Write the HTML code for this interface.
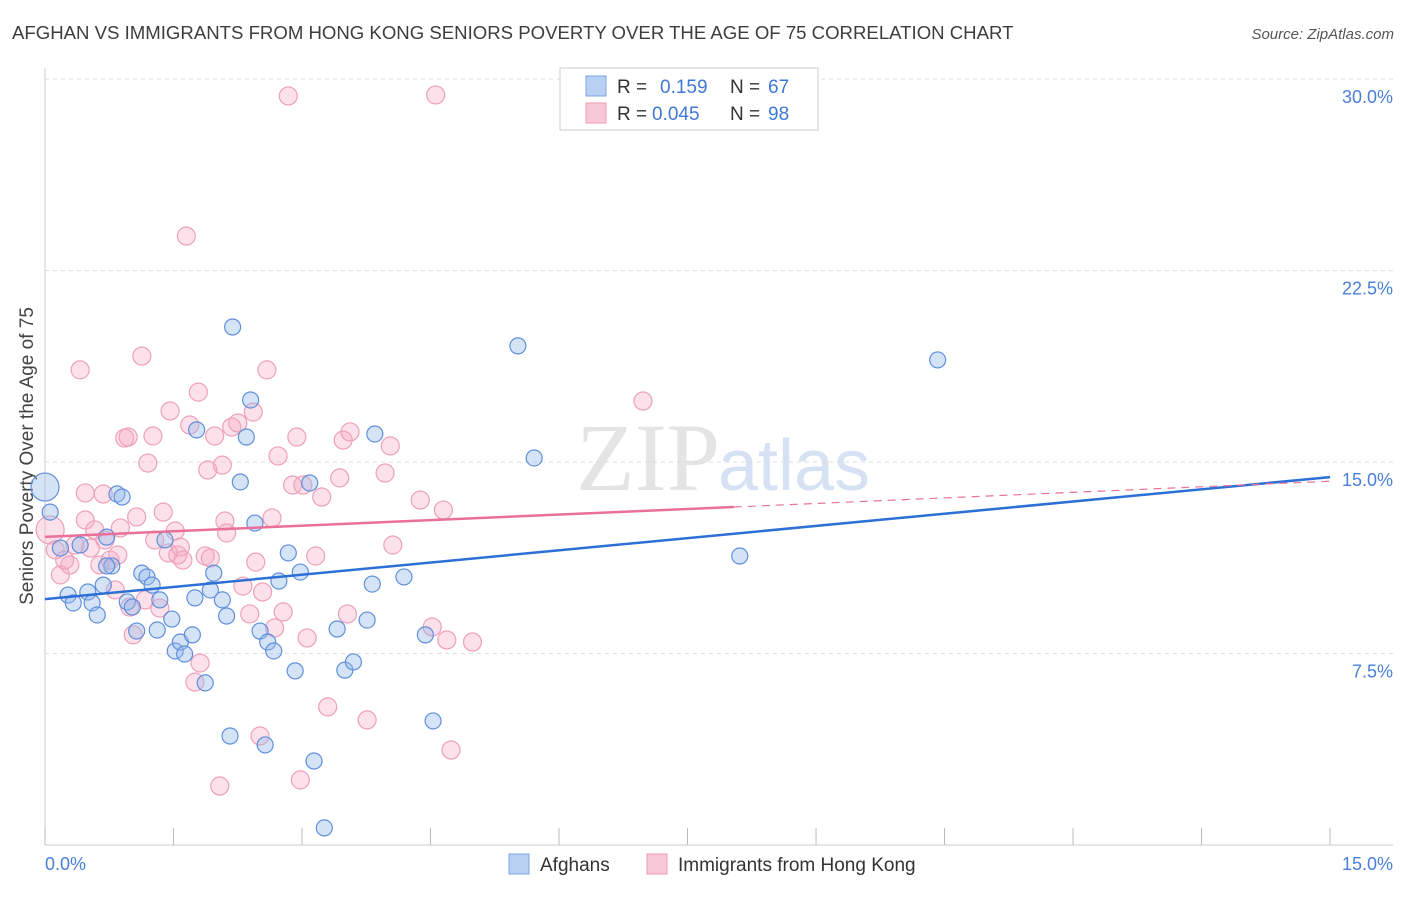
<!DOCTYPE html>
<html><head><meta charset="utf-8"><style>
body{margin:0;background:#fff;font-family:"Liberation Sans",sans-serif;}
</style></head><body>
<svg id="c" width="1406" height="892" xmlns="http://www.w3.org/2000/svg">
<text x="12" y="39" font-size="18.6" fill="#3d3d3d">AFGHAN VS IMMIGRANTS FROM HONG KONG SENIORS POVERTY OVER THE AGE OF 75 CORRELATION CHART</text>
<text x="1394" y="39" font-size="15" fill="#555" font-style="italic" text-anchor="end">Source: ZipAtlas.com</text>
<text x="33" y="456" font-size="19" fill="#444" text-anchor="middle" transform="rotate(-90 33 456)">Seniors Poverty Over the Age of 75</text>
<text x="720" y="490" font-size="96" fill="#e4e4e4" text-anchor="end" font-family="Liberation Serif">ZIP</text>
<text x="718" y="490" font-size="72" fill="#d6e2f4">atlas</text>
<g id="grid"></g><g id="marks"></g>
<g>
<rect x="560" y="68" width="258" height="62" fill="#fff" stroke="#ccc"/>
<rect x="586" y="76" width="20" height="20" fill="#b8d0f2" stroke="#7ba3e0"/>
<rect x="586" y="103" width="20" height="20" fill="#f9c8d8" stroke="#ee9ab6"/>
<text x="617" y="93" font-size="19" fill="#333">R =</text>
<text x="660" y="93" font-size="19" fill="#3f78d6">0.159</text>
<text x="730" y="93" font-size="19" fill="#333">N =</text>
<text x="768" y="93" font-size="19" fill="#3f78d6">67</text>
<text x="617" y="120" font-size="19" fill="#333">R =</text>
<text x="652" y="120" font-size="19" fill="#3f78d6">0.045</text>
<text x="730" y="120" font-size="19" fill="#333">N =</text>
<text x="768" y="120" font-size="19" fill="#3f78d6">98</text>
</g>
<g>
<rect x="509" y="854" width="20" height="20" fill="#b8d0f2" stroke="#7ba3e0"/>
<text x="540" y="871" font-size="19" fill="#333">Afghans</text>
<rect x="647" y="854" width="20" height="20" fill="#f9c8d8" stroke="#ee9ab6"/>
<text x="678" y="871" font-size="19" fill="#333">Immigrants from Hong Kong</text>
</g>
</svg>
<script>
const blueX=[0,0.06,0.18,0.27,0.33,0.41,0.50,0.55,0.61,0.68,0.72,0.78,0.72,0.84,0.90,0.96,1.02,1.07,1.13,1.19,1.25,1.31,1.34,1.40,1.48,1.52,1.58,1.63,1.72,1.75,1.77,1.87,1.93,1.97,2.07,2.12,2.16,2.19,2.28,2.35,2.40,2.45,2.51,2.57,2.60,2.67,2.73,2.84,2.92,2.98,3.09,3.14,3.26,3.41,3.50,3.60,3.76,3.82,3.85,4.19,4.44,4.53,5.52,5.71,8.11,10.42];
const blueY=[14.02,13.04,11.63,9.79,9.48,11.75,9.91,9.48,9.01,10.18,12.06,10.93,10.93,13.75,13.63,9.52,9.32,8.38,10.65,10.50,10.18,8.42,9.60,11.95,8.85,7.60,7.95,7.48,8.23,9.68,16.26,6.35,9.99,10.65,9.60,8.97,4.27,20.29,14.22,15.98,17.43,12.61,8.38,3.92,7.95,7.60,10.34,11.44,6.82,10.69,14.18,3.29,0.67,8.46,6.85,7.17,8.81,10.22,16.10,10.50,8.23,4.86,19.55,15.16,11.32,19.00];
const pinkX=[0.06,0.12,0.18,0.23,0.29,0.35,0.41,0.47,0.47,0.53,0.58,0.64,0.68,0.70,0.76,0.82,0.85,0.88,0.93,0.97,0.99,1.03,1.07,1.13,1.17,1.20,1.26,1.28,1.34,1.38,1.44,1.46,1.52,1.55,1.58,1.61,1.65,1.69,1.75,1.79,1.81,1.87,1.90,1.93,1.98,2.07,2.10,2.12,2.18,2.25,2.31,2.39,2.43,2.46,2.51,2.54,2.59,2.65,2.68,2.72,2.78,2.84,2.89,2.94,2.98,3.01,3.06,3.16,3.23,3.30,3.44,3.48,3.53,3.56,3.76,3.97,4.03,4.06,4.38,4.52,4.56,4.65,4.69,4.74,4.99,6.98,2.04];
const pinkY=[12.34,11.56,10.58,11.16,10.97,11.75,18.61,13.79,12.73,11.63,12.34,10.97,13.75,11.95,11.16,9.99,11.36,12.42,15.94,15.98,9.32,8.23,12.85,19.15,9.60,14.96,16.02,11.95,9.28,13.04,11.44,17.00,12.30,11.36,11.67,11.16,23.85,16.45,6.38,17.74,7.13,11.32,14.69,11.24,16.02,14.88,12.69,12.22,16.37,16.53,10.14,9.05,16.96,11.08,4.27,9.91,18.61,12.81,8.50,15.24,9.13,29.34,14.10,15.98,2.55,14.10,8.11,11.32,13.63,5.41,14.38,15.86,9.05,16.18,4.90,14.57,15.63,11.75,13.51,8.54,29.38,13.12,8.03,3.72,7.95,17.39,2.31];
const yTicks=[7.5,15,22.5,30];
const yTickLabels=["7.5%","15.0%","22.5%","30.0%"];
const xTicks=[0,1.5,3,4.5,6,7.5,9,10.5,12,13.5,15];
const blueTrend=[9.63,14.41];
const pinkTrend=[12.07,14.25];
const pinkSolidEnd=8.04;
const X=v=>45+v*85.67, Y=v=>845-v*25.53;
const NS="http://www.w3.org/2000/svg";
const g=document.getElementById('grid'), m=document.getElementById('marks');
function mk(p,tag,a){const e=document.createElementNS(NS,tag);for(const k in a)e.setAttribute(k,a[k]);p.appendChild(e);return e;}
let ax=mk(g,'line',{x1:45,y1:68,x2:45,y2:845,stroke:'#ccc'});


let bx=mk(g,'line',{x1:45,y1:845,x2:1393,y2:845,stroke:'#ccc'});


yTicks.forEach((t,i)=>{
 const l=mk(g,'line',{x1:45,y1:Y(t),x2:1393,y2:Y(t),stroke:'#ddd','stroke-dasharray':'4 4'});
 
 
 const tx=mk(g,'text',{x:1393,y:Y(t)+24,'font-size':18,fill:'#4a7fd8','text-anchor':'end'});tx.textContent=yTickLabels[i];
 
 
});
xTicks.forEach(t=>{
 const l=mk(g,'line',{x1:X(t),y1:828,x2:X(t),y2:845,stroke:'#bbb'});
 
 
});
let x0=mk(g,'text',{x:45,y:870,'font-size':18,fill:'#4a7fd8'});x0.textContent='0.0%';


let x1=mk(g,'text',{x:1393,y:870,'font-size':18,fill:'#4a7fd8','text-anchor':'end'});x1.textContent='15.0%';


pinkX.forEach((v,i)=>{
 const c=mk(m,'circle',{cx:X(v),cy:Y(pinkY[i]),r:i==0?14:9,fill:'rgba(246,170,196,0.35)',stroke:'#eea0ba','stroke-width':1.2});
 
 
});
blueX.forEach((v,i)=>{
 const c=mk(m,'circle',{cx:X(v),cy:Y(blueY[i]),r:i==0?14:8,fill:'rgba(150,185,235,0.4)',stroke:'#5f8fdb','stroke-width':1.2});
 
 
});
const bl=mk(m,'line',{x1:X(0),y1:Y(blueTrend[0]),x2:X(15),y2:Y(blueTrend[1]),stroke:'#2c6fd6','stroke-width':2.5});


const py=t=>pinkTrend[0]+(pinkTrend[1]-pinkTrend[0])*t/15;
const pl=mk(m,'line',{x1:X(0),y1:Y(pinkTrend[0]),x2:X(pinkSolidEnd),y2:Y(py(pinkSolidEnd)),stroke:'#e8709a','stroke-width':2.5});


const pd=mk(m,'line',{x1:X(pinkSolidEnd),y1:Y(py(pinkSolidEnd)),x2:X(15),y2:Y(pinkTrend[1]),stroke:'#e8709a','stroke-width':1.2,'stroke-dasharray':'8 6'});


</script>
</body></html>
